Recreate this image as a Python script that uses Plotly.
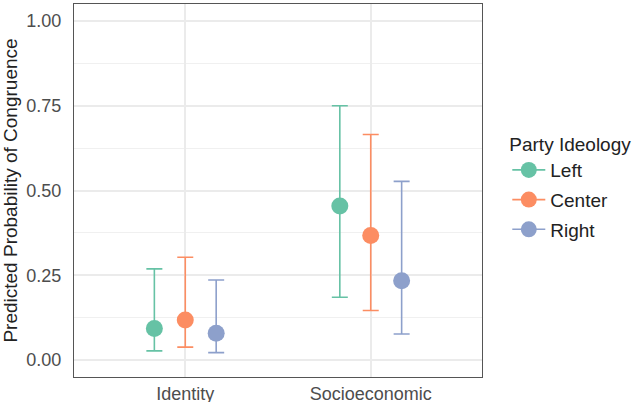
import plotly.graph_objects as go

categories = ["Identity", "Socioeconomic"]
ideologies = ["Left", "Center", "Right"]
colors = ["#66C2A5", "#FC8D62", "#8DA0CB"]

# predicted probability, lower and upper CI bounds per ideology (Identity, Socioeconomic)
estimate = {"Left": [0.093, 0.454], "Center": [0.118, 0.367], "Right": [0.079, 0.234]}
lower = {"Left": [0.027, 0.185], "Center": [0.038, 0.146], "Right": [0.022, 0.077]}
upper = {"Left": [0.269, 0.750], "Center": [0.303, 0.665], "Right": [0.236, 0.527]}

y_ticks = [0.0, 0.25, 0.5, 0.75, 1.0]
y_ticklabels = ["0.00", "0.25", "0.50", "0.75", "1.00"]

dodge = 0.5
font_family = "Arial, Liberation Sans, Helvetica, sans-serif"

fig = go.Figure()
n = len(ideologies)
for i, (ide, col) in enumerate(zip(ideologies, colors)):
    offset = (i - (n - 1) / 2) * dodge / n
    xs = [k + 1 + offset for k in range(len(categories))]
    ys = estimate[ide]
    fig.add_trace(go.Scatter(
        x=xs, y=ys, mode="markers", showlegend=False, name=ide, legendgroup=ide,
        marker=dict(color=col, size=17, line=dict(width=0)),
        error_y=dict(type="data", symmetric=False,
                     array=[u - e for u, e in zip(upper[ide], ys)],
                     arrayminus=[e - l for e, l in zip(ys, lower[ide])],
                     color=col, thickness=1.6, width=8),
    ))
    fig.add_trace(go.Scatter(
        x=[None], y=[None], mode="lines+markers", name=ide, legendgroup=ide,
        marker=dict(color=col, size=17), line=dict(color=col, width=1.6),
    ))

fig.update_layout(
    width=634, height=402,
    margin=dict(l=74, r=152, t=4, b=25, autoexpand=False),
    paper_bgcolor="white", plot_bgcolor="white",
    font=dict(family=font_family, size=19, color="#222222"),
    legend=dict(title=dict(text="Party Ideology", font=dict(size=19, color="#222222")),
                x=1.062, xanchor="left", y=0.672, yanchor="top",
                font=dict(size=19, color="#222222"), itemwidth=33,
                tracegroupgap=2, bgcolor="rgba(0,0,0,0)"),
    xaxis=dict(range=[0.4, 2.6], tickmode="array", tickvals=[1, 2], ticktext=categories,
               showgrid=True, gridcolor="#EBEBEB", gridwidth=1.5, zeroline=False,
               showline=True, mirror=True, linecolor="#555555", linewidth=1.2,
               ticks="", automargin=False, tickfont=dict(size=18, color="#4D4D4D")),
    yaxis=dict(range=[-0.05, 1.05], tickmode="array", tickvals=y_ticks, ticktext=y_ticklabels,
               showgrid=True, gridcolor="#EBEBEB", gridwidth=1.5, zeroline=False,
               showline=True, mirror=True, linecolor="#555555", linewidth=1.2,
               ticks="", automargin=False, ticklabelstandoff=8,
               tickfont=dict(size=18, color="#4D4D4D"),
               minor=dict(tickmode="array", tickvals=[0.125, 0.375, 0.625, 0.875],
                          showgrid=True, gridcolor="#F0F0F0", gridwidth=1),
               title=dict(text="Predicted Probability of Congruence",
                          font=dict(size=19, color="#222222"), standoff=10)),
)

fig.write_html("out.html", config={"displayModeBar": False},
               post_script="document.body.style.margin='0';document.body.style.overflow='hidden';")
